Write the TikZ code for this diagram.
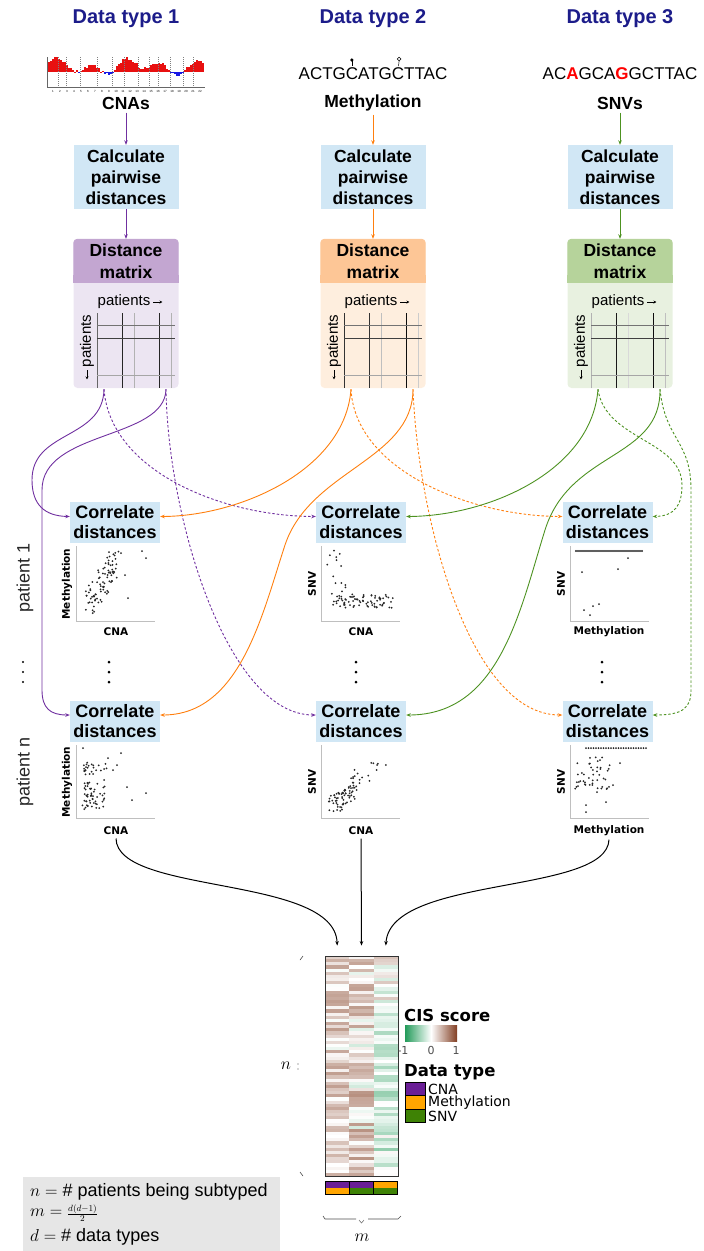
\documentclass[tikz,border=0pt]{standalone}
\usepackage{fontspec}
\setmainfont{Liberation Sans}
\newfontfamily\dejavu{DejaVu Sans}
\usepackage{amsmath}
\usetikzlibrary{calc}
\usetikzlibrary{arrows.meta}

\definecolor{titleblue}{RGB}{28,28,138}
\definecolor{cnaline}{RGB}{112,48,160}
\definecolor{methline}{RGB}{255,127,14}
\definecolor{snvline}{RGB}{77,146,33}
\definecolor{calcfill}{RGB}{209,231,245}
\definecolor{cnahead}{RGB}{195,166,209}
\definecolor{cnabody}{RGB}{236,229,242}
\definecolor{methhead}{RGB}{253,198,150}
\definecolor{methbody}{RGB}{254,238,222}
\definecolor{snvhead}{RGB}{182,211,155}
\definecolor{snvbody}{RGB}{232,241,224}
\definecolor{cispos}{RGB}{130,62,34}
\definecolor{cisneg}{RGB}{35,155,90}
\definecolor{legcna}{RGB}{106,30,150}
\definecolor{legmeth}{RGB}{255,165,0}
\definecolor{legsnv}{RGB}{62,130,5}
\definecolor{notegray}{RGB}{230,230,230}
\definecolor{cnared}{RGB}{232,16,16}
\definecolor{cnablue}{RGB}{24,24,228}

\tikzset{
  flowline/.style={line width=0.9pt, -{Stealth[length=4.5pt,width=3.5pt]}},
  dotline/.style={flowline, dash pattern=on 2.5pt off 2pt},
  datatitle/.style={text=titleblue, font=\bfseries\fontsize{20}{20}\selectfont},
  datalabel/.style={font=\bfseries\fontsize{17.5}{20}\selectfont},
  seqtext/.style={inner sep=0pt, font=\fontsize{17}{17}\selectfont},
  calcbox/.style={fill=calcfill, minimum width=105pt, minimum height=64pt, inner sep=0pt, align=center, font=\bfseries\fontsize{17.5}{21}\selectfont},
  corrbox/.style={fill=calcfill, minimum width=90pt, minimum height=41pt, inner sep=0pt, align=center, font=\bfseries\fontsize{18}{20}\selectfont},
  matbody/.style={rounded corners=4pt, minimum width=105pt, minimum height=149pt, inner sep=0pt},
  pattext/.style={inner sep=0pt, font=\fontsize{15}{15}\selectfont},
  axislab/.style={font=\dejavu\bfseries\fontsize{10.5}{10.5}\selectfont},
  axisline/.style={black!25, line width=0.8pt},
  pdot/.style={fill=black!85},
  legtitle/.style={anchor=west, inner sep=0pt, font=\dejavu\bfseries\fontsize{16.5}{16.5}\selectfont},
  legtext/.style={anchor=west, inner sep=0pt, font=\dejavu\fontsize{14}{14}\selectfont},
  legkey/.style={draw=black, line width=0.8pt, minimum width=20pt, minimum height=13.5pt, inner sep=0pt},
  notetext/.style={anchor=west, inner sep=0pt, font=\fontsize{18}{18}\selectfont}
}

\newcommand{\matgrid}[6]{%
  \foreach \dx/\sh in {-29/#2,-4/#3,8/#4,33/#5,45/#6}
    \draw[black!\sh, line width=0.9pt] (#1+\dx,313) -- (#1+\dx,388);
  \foreach \dy/\sh in {325/55,338/75,375/35}
    \draw[black!\sh, line width=0.8pt] (#1-29,\dy) -- (#1+49,\dy);
}

\begin{document}
\begin{tikzpicture}[x=1pt,y=-1pt]
\useasboundingbox (0,0) rectangle (704,1251);
\pgfmathsetseed{17}

\node[datatitle] (title1) at (126,19) {Data type 1};
\node[datatitle] (title2) at (373,19) {Data type 2};
\node[datatitle] (title3) at (620,19) {Data type 3};

\draw[black!60, line width=0.4pt] (47,57) -- (47,87) -- (205,87);
\foreach \i in {0,...,77} {
  \pgfmathsetmacro\h{max(-6,5*sin(\i*21)+4*sin(\i*9+60)+4+3*rnd)}
  \pgfmathtruncatemacro\hpos{\h>0}
  \ifnum\hpos=1 \fill[cnared] (48+2*\i,72) rectangle (50+2*\i,72-\h);
  \else \fill[cnablue] (48+2*\i,72) rectangle (50+2*\i,72-\h); \fi
}
\foreach \x in {58,66,80,97,112,124,138,149,158,170,183,193}
  \draw[black!50, dash pattern=on 1pt off 1pt, line width=0.3pt] (\x,57) -- (\x,87);
\foreach \n in {1,...,22}
  \node[inner sep=0pt, font=\fontsize{3}{3}\selectfont] at (46+7*\n,91) {\n};
\node[datalabel] (lab1) at (126,103) {CNAs};

\node[seqtext] (seq2) at (373,74) {ACTGCATGCTTAC};
\fill ($(seq2.west)+(53.4,-14)$) circle (1.8pt);
\draw[line width=0.5pt] ($(seq2.west)+(53.4,-13)$) -- ($(seq2.west)+(53.4,-8)$);
\draw[line width=0.5pt] ($(seq2.west)+(100.6,-15)$) circle (1.8pt);
\draw[line width=0.5pt] ($(seq2.west)+(100.6,-13)$) -- ($(seq2.west)+(100,-8)$);
\node[datalabel] (lab2) at (373,103) {Methylation};

\node[seqtext] (seq3) at (620,74) {AC{\color{red}\bfseries A}GCA{\color{red}\bfseries G}GCTTAC};
\node[datalabel] (lab3) at (620,103) {SNVs};

\node[calcbox] (calc1) at (126,177) {Calculate\\pairwise\\distances};
\node[calcbox] (calc2) at (373,177) {Calculate\\pairwise\\distances};
\node[calcbox] (calc3) at (620,177) {Calculate\\pairwise\\distances};

\foreach \m/\cx/\hd/\bd in {1/126/cnahead/cnabody, 2/373/methhead/methbody, 3/620/snvhead/snvbody} {
  \node[matbody, fill=\bd] (mat\m) at (\cx,313.5) {};
  \fill[\hd, rounded corners=4pt] (mat\m.north west) rectangle ($(mat\m.north east)+(0,44)$);
  \fill[\hd] ($(mat\m.north west)+(0,36)$) rectangle ($(mat\m.north east)+(0,44)$);
  \node[align=center, inner sep=0pt, font=\bfseries\fontsize{17.5}{22}\selectfont] (head\m) at (\cx,261) {Distance\\matrix};
  \node[pattext] (patx\m) at (\cx-2,302) {patients};
  \draw[line width=0.7pt, -{Stealth[length=3pt,width=3pt]}] ($(patx\m.east)+(3,0)$) -- ($(patx\m.east)+(12,0)$);
  \node[pattext, rotate=90] (paty\m) at (\cx-39,341) {patients};
  \draw[line width=0.7pt, -{Stealth[length=3pt,width=3pt]}] ($(paty\m.west)+(0,3)$) -- ($(paty\m.west)+(0,12)$);
}
\matgrid{126}{60}{85}{30}{85}{30}
\matgrid{373}{80}{80}{25}{95}{20}
\matgrid{620}{30}{90}{15}{95}{25}

\draw[flowline, cnaline] (lab1.south) -- (calc1.north);
\draw[flowline, methline] (lab2.south) -- (calc2.north);
\draw[flowline, snvline] (lab3.south) -- (calc3.north);
\draw[flowline, cnaline] (calc1.south) -- (mat1.north);
\draw[flowline, methline] (calc2.south) -- (mat2.north);
\draw[flowline, snvline] (calc3.south) -- (mat3.north);

\node[corrbox] (c1a) at (115,522.5) {Correlate\\distances};
\node[corrbox] (c2a) at (361,522.5) {Correlate\\distances};
\node[corrbox] (c3a) at (607.5,522.5) {Correlate\\distances};
\node[corrbox] (c1b) at (115,721) {Correlate\\distances};
\node[corrbox] (c2b) at (361,721) {Correlate\\distances};
\node[corrbox] (c3b) at (607.5,721) {Correlate\\distances};

\node[rotate=90, inner sep=0pt, text=black!85, font=\fontsize{18}{18}\selectfont] (pat1) at (25,578) {patient 1};
\node[rotate=90, inner sep=0pt, text=black!85, font=\fontsize{18}{18}\selectfont] (patn) at (25,772) {patient n};
\foreach \cx in {109,356,602}
  \foreach \dy in {662,672,682}
    \fill (\cx,\dy) circle (1.5pt);
\foreach \dy in {662,672,682}
  \fill (23,\dy) circle (1.2pt);

\draw[flowline, cnaline] ($(mat1.south)+(-22,1)$) .. controls (103,440) and (32,430) .. (32,480) .. controls (32,505) and (45,516) .. ($(c1a.west)+(0,-6)$);
\draw[flowline, cnaline] ($(mat1.south)+(40,1)$) .. controls (165,440) and (42,430) .. (42,490) -- (42,690) .. controls (42,708) and (50,715) .. ($(c1b.west)+(0,-6)$);
\draw[dotline, cnaline] ($(mat1.south)+(-22,1)$) .. controls (110,470) and (220,516) .. ($(c2a.west)+(0,-6)$);
\draw[dotline, cnaline] ($(mat1.south)+(40,1)$) .. controls (168,520) and (228,715) .. ($(c2b.west)+(0,-6)$);

\draw[flowline, methline] ($(mat2.south)+(-22,1)$) .. controls (345,470) and (240,516) .. ($(c1a.east)+(0,-6)$);
\draw[flowline, methline] ($(mat2.south)+(40,1)$) .. controls (413,460) and (310,470) .. (285,545) .. controls (262,615) and (240,715) .. ($(c1b.east)+(0,-6)$);
\draw[dotline, methline] ($(mat2.south)+(-22,1)$) .. controls (355,470) and (470,516) .. ($(c3a.west)+(0,-6)$);
\draw[dotline, methline] ($(mat2.south)+(40,1)$) .. controls (418,520) and (470,715) .. ($(c3b.west)+(0,-6)$);

\draw[flowline, snvline] ($(mat3.south)+(-22,1)$) .. controls (592,470) and (490,516) .. ($(c2a.east)+(0,-6)$);
\draw[flowline, snvline] ($(mat3.south)+(40,1)$) .. controls (661,460) and (570,450) .. (545,530) .. controls (520,610) and (500,715) .. ($(c2b.east)+(0,-6)$);
\draw[dotline, snvline] ($(mat3.south)+(-22,1)$) .. controls (605,440) and (682,440) .. (682,485) .. controls (682,505) and (675,516) .. ($(c3a.east)+(0,-6)$);
\draw[dotline, snvline] ($(mat3.south)+(40,1)$) .. controls (665,440) and (691,440) .. (691,490) -- (691,690) .. controls (691,708) and (683,715) .. ($(c3b.east)+(0,-6)$);

\foreach \ox/\k in {76/1,321/2,570/3} {
  \draw[axisline] (\ox,546) -- (\ox,621) -- (\ox+79,621);
  \draw[axisline] (\ox,745) -- (\ox,818) -- (\ox+79,818);
}
\node[axislab] (xl1a) at (116,632) {CNA};
\node[axislab] (xl2a) at (361,632) {CNA};
\node[axislab] (xl3a) at (609,632) {Methylation};
\node[axislab] (xl1b) at (116,831) {CNA};
\node[axislab] (xl2b) at (361,831) {CNA};
\node[axislab] (xl3b) at (609,831) {Methylation};
\node[axislab, rotate=90] (yl1a) at (67,584) {Methylation};
\node[axislab, rotate=90] (yl2a) at (312,584) {SNV};
\node[axislab, rotate=90] (yl3a) at (561,584) {SNV};
\node[axislab, rotate=90] (yl1b) at (67,782) {Methylation};
\node[axislab, rotate=90] (yl2b) at (312,782) {SNV};
\node[axislab, rotate=90] (yl3b) at (561,782) {SNV};

\foreach \i in {1,...,85} {
  \pgfmathsetmacro\u{rnd}
  \fill[pdot] (81+24*\u+16*rnd, 616-44*\u-22*rnd) circle (1pt);
}
\foreach \x/\y in {142/551,146/558,121/553,125/575,112/581,128/598}
  \fill[pdot] (\x,\y) circle (1pt);
\foreach \i in {1,...,75}
  \fill[pdot] (333+62*rnd, 594+14*rnd) circle (1pt);
\foreach \i in {1,...,14} {
  \pgfmathsetmacro\u{rnd}
  \fill[pdot] (327+20*rnd, 550+44*\u) circle (1pt);
}
\foreach \x in {576,578,...,642}
  \fill[pdot] (\x,551) circle (1.1pt);
\foreach \x/\y in {582/572,618/569,628/558,584/610,590/615,593/606,599/604}
  \fill[pdot] (\x,\y) circle (1pt);

\foreach \i in {1,...,80}
  \fill[pdot] (82+26*rnd*rnd+4*rnd, 762+48*rnd) circle (1pt);
\foreach \x/\y in {83/748,121/753,146/793,132/800,117/765,108/758,127/787,113/770}
  \fill[pdot] (\x,\y) circle (1pt);
\foreach \i in {1,...,85} {
  \pgfmathsetmacro\u{rnd*rnd}
  \fill[pdot] (328+52*\u+14*rnd, 812-48*\u-18*rnd) circle (1pt);
}
\foreach \x in {586,588.5,...,646}
  \fill[pdot] (\x,748) circle (1pt);
\foreach \i in {1,...,45}
  \fill[pdot] (574+36*rnd, 757+32*rnd) circle (1pt);
\foreach \x/\y in {586/805,586/812,597/792,606/802,613/785,620/763,600/760}
  \fill[pdot] (\x,\y) circle (1pt);

\foreach \r in {0,...,69} {
  \foreach \k in {0,1,2} {
    \ifnum\k=0 \pgfmathsetmacro\v{-10+64*rnd}\fi
    \ifnum\k=1 \pgfmathsetmacro\v{-22+80*rnd}\fi
    \ifnum\k=2 \ifnum\r<14 \pgfmathsetmacro\v{-32+64*rnd}\else \pgfmathsetmacro\v{-50+58*rnd}\fi\fi
    \pgfmathtruncatemacro\hpos{\v>0}
    \pgfmathtruncatemacro\hv{abs(\v)}
    \ifnum\hpos=1 \colorlet{heatc}{cispos!\hv!white}\else \colorlet{heatc}{cisneg!\hv!white}\fi
    \fill[heatc] (325+24.33*\k,956+3.1429*\r) rectangle (349.4+24.33*\k,959.3+3.1429*\r);
  }
}
\node[draw=black!80, line width=0.8pt, minimum width=73pt, minimum height=220pt, inner sep=0pt] (heat) at (361.5,1066) {};

\draw[flowline, black, line width=1pt] (xl1b.south) .. controls (117,895) and (335,875) .. ($(heat.north)+(-24.3,-10)$);
\draw[flowline, black, line width=1pt] (xl2b.south) -- ($(heat.north)+(0,-10)$);
\draw[flowline, black, line width=1pt] (xl3b.south) .. controls (607,895) and (390,875) .. ($(heat.north)+(24.3,-10)$);

\foreach \k/\ct/\cb in {0/legcna/legmeth,1/legcna/legsnv,2/legmeth/legsnv} {
  \fill[\ct] (325+24.33*\k,1181) rectangle (349.33+24.33*\k,1187.5);
  \fill[\cb] (325+24.33*\k,1187.5) rectangle (349.33+24.33*\k,1194);
  \draw[line width=1pt] (325+24.33*\k,1181) rectangle (349.33+24.33*\k,1194);
}

\node[legtitle] (cistitle) at (404,1015) {CIS score};
\node[minimum width=52pt, minimum height=16pt, inner sep=0pt, left color=cisneg, right color=cispos, middle color=white] (cisbar) at (431,1033) {};
\node[inner sep=0pt, text=black!70, font=\dejavu\fontsize{11}{11}\selectfont] (cism) at (403,1050) {-1};
\node[inner sep=0pt, text=black!70, font=\dejavu\fontsize{11}{11}\selectfont] (cisz) at (431,1050) {0};
\node[inner sep=0pt, text=black!70, font=\dejavu\fontsize{11}{11}\selectfont] (cisp) at (456,1050) {1};
\node[legtitle] (typetitle) at (404,1072) {Data type};
\node[legkey, fill=legcna] (keycna) at (415,1089) {};
\node[legkey, fill=legmeth] (keymeth) at (415,1102.5) {};
\node[legkey, fill=legsnv] (keysnv) at (415,1116) {};
\node[legtext] (txtcna) at (428,1089) {CNA};
\node[legtext] (txtmeth) at (428,1102.5) {Methylation};
\node[legtext] (txtsnv) at (428,1116) {SNV};

\draw[black!70, line width=0.6pt] (303,956) -- (300,960);
\fill[black!70] (298,1064) circle (0.7pt);
\fill[black!70] (298,1069) circle (0.7pt);
\draw[black!70, line width=0.6pt] (300,1172) -- (303,1176);
\node[inner sep=0pt, font=\fontsize{17}{17}\selectfont] (nlab) at (286,1066) {$n$};
\draw[black!70, line width=0.6pt] (323,1216) -- (325,1219) -- (356,1219);
\draw[black!70, line width=0.6pt] (368,1219) -- (398,1219) -- (401,1216);
\draw[black!60, line width=0.5pt] (359,1220) -- (361.5,1223) -- (364,1220);
\node[inner sep=0pt, font=\fontsize{17}{17}\selectfont] (mlab) at (362,1238) {$m$};

\node[fill=notegray, anchor=north west, minimum width=257pt, minimum height=74pt, inner sep=0pt] (note) at (23,1177) {};
\node[notetext] (note1) at (30,1192) {$n =$ \# patients being subtyped};
\node[notetext] (note2) at (30,1213) {$m = {\scriptscriptstyle\frac{\raisebox{1.5pt}{$\scriptscriptstyle d(d-1)$}}{\lower2pt\hbox{$\scriptscriptstyle 2$}}}$};
\node[notetext] (note3) at (30,1237) {$d =$ \# data types};
\end{tikzpicture}
\end{document}
